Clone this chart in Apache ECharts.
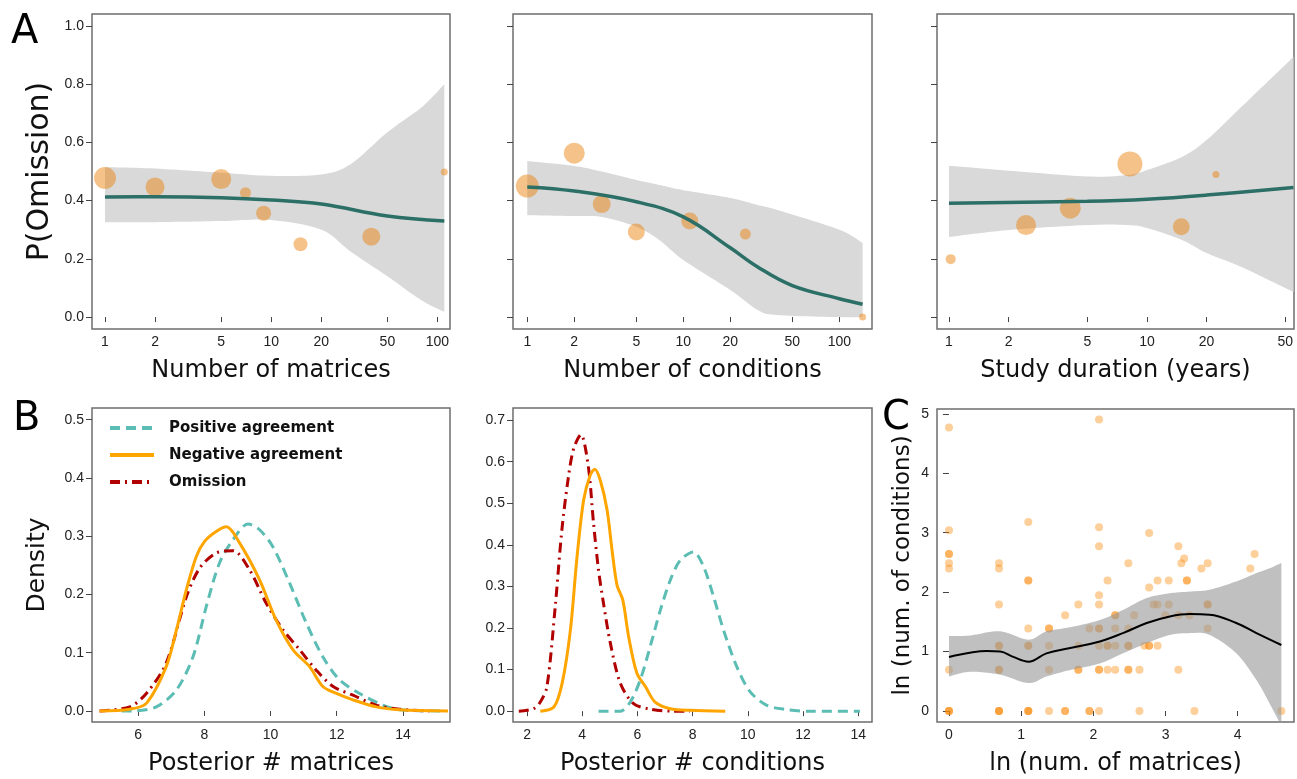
<!DOCTYPE html>
<html><head><meta charset="utf-8">
<script src="https://cdn.jsdelivr.net/npm/echarts@6/dist/echarts.min.js"></script>
<style>html,body{margin:0;padding:0;background:#fff}#c{width:1297px;height:779px}</style>
</head><body><div id="c"></div>
<script>
// ---------- Panel A data ----------
const aYTicks = [0, 0.2, 0.4, 0.6, 0.8, 1.0];
const aXTicks100 = [1, 2, 5, 10, 20, 50, 100];
const aXTicks50 = [1, 2, 5, 10, 20, 50];

const a1PtX = [1, 2, 5, 7, 9, 15, 40, 110];
const a1PtY = [0.478, 0.447, 0.474, 0.427, 0.357, 0.25, 0.276, 0.498];
const a1PtW = [22, 19, 20, 11, 15, 14, 18, 7];
const a1LineX = [1, 2, 5, 10, 20, 50, 110];
const a1LineY = [0.412, 0.413, 0.41, 0.402, 0.388, 0.347, 0.33];
const a1BandX = [1, 2, 5, 10, 20, 30, 50, 80, 110];
const a1BandHi = [0.515, 0.51, 0.496, 0.485, 0.49, 0.525, 0.635, 0.72, 0.80];
const a1BandLo = [0.326, 0.326, 0.33, 0.333, 0.30, 0.225, 0.14, 0.058, 0.018];

const a2PtX = [1, 2, 3, 5, 11, 25, 141];
const a2PtY = [0.45, 0.563, 0.388, 0.292, 0.33, 0.285, 0.0];
const a2PtW = [23, 21, 18, 17, 17, 11, 7];
const a2LineX = [1, 2, 5, 10, 20, 30, 50, 100, 141];
const a2LineY = [0.447, 0.433, 0.396, 0.344, 0.238, 0.172, 0.108, 0.063, 0.044];
const a2BandX = [1, 2, 3, 5, 7, 10, 20, 30, 40, 100, 141];
const a2BandHi = [0.536, 0.519, 0.5, 0.471, 0.454, 0.436, 0.409, 0.385, 0.368, 0.3, 0.254];
const a2BandLo = [0.35, 0.347, 0.344, 0.31, 0.265, 0.196, 0.093, 0.024, 0.007, 0, 0];

const a3PtX = [1.02, 2.45, 4.1, 8.2, 14.9, 22.3];
const a3PtY = [0.199, 0.316, 0.374, 0.526, 0.31, 0.49];
const a3PtW = [10, 20, 21, 25, 17, 7];
const a3LineX = [1, 5, 10, 20, 55];
const a3LineY = [0.391, 0.398, 0.405, 0.419, 0.445];
const a3BandX = [1, 2, 5, 8, 10, 15, 20, 30, 55];
const a3BandHi = [0.52, 0.503, 0.483, 0.488, 0.505, 0.55, 0.608, 0.722, 0.894];
const a3BandLo = [0.275, 0.299, 0.316, 0.316, 0.306, 0.265, 0.22, 0.172, 0.086];

// ---------- Panel B data ----------
const seriesNames = ['Positive agreement', 'Negative agreement', 'Omission'];
const b1YTicks = [0, 0.1, 0.2, 0.3, 0.4, 0.5];
const b1XTicks = [6, 8, 10, 12, 14];
const b1Pos = [[5.5,0],[5.85,0],[6.55,0.007],[7.16,0.036],[7.66,0.093],[8.06,0.179],[8.46,0.254],[8.87,0.294],[9.32,0.321],[9.67,0.311],[10.07,0.282],[10.58,0.219],[11.08,0.151],[11.58,0.093],[12.09,0.053],[12.69,0.030],[13.39,0.010],[13.9,0.002],[15.2,0]];
const b1Neg = [[4.84,0],[5.75,0.003],[6.25,0.013],[6.85,0.076],[7.16,0.139],[7.46,0.208],[7.76,0.265],[8.01,0.291],[8.36,0.308],[8.67,0.316],[9.07,0.288],[9.67,0.225],[10.17,0.156],[10.68,0.105],[11.18,0.076],[11.58,0.042],[11.99,0.030],[12.49,0.019],[13.19,0.007],[13.9,0.002],[15.36,0]];
const b1Om = [[4.84,0],[5.75,0.007],[6.25,0.030],[6.85,0.082],[7.46,0.196],[7.86,0.245],[8.36,0.271],[8.87,0.275],[9.37,0.242],[9.87,0.185],[10.38,0.139],[10.88,0.105],[11.38,0.070],[11.89,0.042],[12.49,0.027],[13.19,0.010],[13.9,0.003],[14.8,0]];

const b2YTicks = [0, 0.1, 0.2, 0.3, 0.4, 0.5, 0.6, 0.7];
const b2XTicks = [2, 4, 6, 8, 10, 12, 14];
const b2Pos = [[4.59,0],[5.38,0],[5.74,0.022],[6.1,0.075],[6.46,0.155],[6.83,0.243],[7.19,0.315],[7.55,0.363],[8.03,0.383],[8.4,0.347],[8.76,0.275],[9.12,0.195],[9.6,0.107],[10.08,0.047],[10.69,0.014],[11.41,0.004],[12.13,0],[14.06,0]];
const b2Neg = [[2.48,0],[2.97,0.010],[3.27,0.067],[3.57,0.195],[3.81,0.371],[4.05,0.508],[4.29,0.568],[4.45,0.582],[4.65,0.556],[4.9,0.484],[5.08,0.387],[5.26,0.303],[5.47,0.267],[5.68,0.179],[5.98,0.091],[6.29,0.059],[6.64,0.022],[7.19,0.006],[7.91,0.002],[9.18,0]];
const b2Om = [[1.7,0],[2.24,0.006],[2.48,0.022],[2.72,0.059],[3.02,0.251],[3.26,0.435],[3.5,0.564],[3.69,0.632],[3.95,0.665],[4.22,0.588],[4.41,0.451],[4.59,0.339],[4.77,0.259],[5.02,0.163],[5.38,0.067],[5.86,0.018],[6.46,0.005],[7.3,0],[7.9,0]];

// ---------- Panel C data ----------
const cXTicks = [0, 1, 2, 3, 4];
const cYTicks = [0, 1, 2, 3, 4, 5];
const cPtX = [0,0,0,0,0,0,0,0,0,0,
  0.693,0.693,0.693,0.693,0.693,0.693,0.693,0.693,0.693,0.693,
  1.099,1.099,1.099,1.099,1.099,1.099,1.099,1.099,1.099,
  1.386,1.386,1.386,1.386,1.386,
  1.609,1.609,1.609,
  1.792,1.792,1.792,1.792,
  1.946,1.946,1.946,
  2.079,2.079,2.079,2.079,2.079,2.079,2.079,2.079,2.079,2.079,2.079,
  2.197,2.197,2.197,2.197,
  2.303,2.303,2.303,2.303,2.303,
  2.485,2.485,2.485,2.485,2.485,2.485,
  2.565,2.639,2.639,2.708,
  2.773,2.773,2.773,2.773,
  2.833,2.890,2.890,2.890,2.996,3.045,3.045,
  3.178,3.178,3.178,3.219,3.258,3.296,3.296,3.332,3.401,3.497,
  3.584,3.584,3.584,3.584,4.174,4.234,4.605];
const cPtY = [4.77,3.04,2.64,2.64,2.485,2.398,0.693,0,0,0,
  2.485,2.398,1.792,1.099,1.099,0.693,0.693,0,0,0,
  3.178,2.197,2.197,1.386,1.099,1.099,0,0,0,
  1.386,1.386,1.099,0.693,0,
  1.609,0,0,
  1.792,1.099,0.693,0.693,
  1.386,0,0,
  4.905,3.091,2.773,1.946,1.792,1.386,1.386,1.099,0.693,0.693,0,
  2.197,1.099,1.099,0.693,
  1.609,1.609,1.386,1.099,0.693,
  2.485,1.386,1.099,1.099,0.693,0.693,
  1.609,0.693,0,1.099,
  2.996,2.079,1.099,1.099,
  1.792,2.197,1.792,1.099,1.609,2.197,1.792,
  2.773,1.609,0.693,2.485,2.565,2.197,2.197,1.609,0,2.398,
  2.485,1.792,1.792,1.386,2.398,2.639,0];
const cLineX = [0, 0.29, 0.52, 0.71, 0.89, 1.10, 1.35, 1.68, 2.09, 2.41, 2.74, 3.06, 3.34, 3.61, 3.98, 4.26, 4.605];
const cLineY = [0.91, 0.98, 1.01, 1.0, 0.91, 0.83, 0.97, 1.06, 1.17, 1.31, 1.48, 1.59, 1.63, 1.62, 1.48, 1.31, 1.11];
const cBandX = [0, 0.29, 0.71, 1.10, 1.35, 1.68, 2.09, 2.41, 2.74, 3.06, 3.34, 3.61, 3.98, 4.26, 4.44, 4.605];
const cBandHi = [1.26, 1.27, 1.34, 1.20, 1.34, 1.41, 1.53, 1.70, 1.90, 1.98, 2.01, 2.04, 2.18, 2.32, 2.40, 2.49];
const cBandLo = [0.58, 0.66, 0.61, 0.47, 0.58, 0.69, 0.80, 0.97, 1.14, 1.28, 1.31, 1.28, 0.97, 0.52, 0.13, -0.25];

// ---------- styles ----------
const TICK_FONT = 'Liberation Sans';
const NAME_FONT = 'DejaVu Sans';
const TEAL_LINE = '#2b6f66';
const BUBBLE = 'rgba(235,130,10,0.6)';
const C_POINT = 'rgba(250,135,5,0.5)';
const POS_C = '#5bbdb3', NEG_C = '#ffa500', OM_C = '#b00000';

const grids = [
  {left: 92, top: 14, width: 358, height: 315},
  {left: 513, top: 14, width: 359, height: 315},
  {left: 937, top: 14, width: 357, height: 315},
  {left: 92, top: 408, width: 358, height: 314},
  {left: 513, top: 408, width: 359, height: 314},
  {left: 937, top: 409, width: 357, height: 313}
].map(g => Object.assign({show: true, borderColor: '#6e6e6e', borderWidth: 1.5, backgroundColor: 'transparent', containLabel: false}, g));

function xAx(gi, type, min, max, ticks, name, fmt) {
  return {
    type: type, logBase: 10, gridIndex: gi, min: min, max: max,
    name: name, nameLocation: 'middle', nameGap: 30,
    nameTextStyle: {fontFamily: NAME_FONT, fontSize: 24, color: '#111'},
    axisLine: {show: false},
    axisTick: {show: true, customValues: ticks, length: 5, lineStyle: {color: '#444', width: 1}},
    axisLabel: {customValues: ticks, margin: 6, fontFamily: TICK_FONT, fontSize: 14, color: '#222', formatter: fmt},
    splitLine: {show: false}
  };
}
function yAx(gi, min, max, ticks, name, showLabels, fmt, nameGap, nameSize) {
  return {
    type: 'value', gridIndex: gi, min: min, max: max,
    name: name, nameLocation: 'middle', nameGap: nameGap || 40, nameRotate: 90,
    nameTextStyle: {fontFamily: NAME_FONT, fontSize: nameSize || 24, color: '#111'},
    axisLine: {show: false},
    axisTick: {show: true, customValues: ticks, length: 6, lineStyle: {color: '#444', width: 1}},
    axisLabel: {show: showLabels, customValues: ticks, margin: 8, fontFamily: TICK_FONT, fontSize: 14, color: '#222', formatter: fmt},
    splitLine: {show: false}
  };
}
const f1 = v => Number(v).toFixed(1);
const f0 = v => String(Math.round(v * 100) / 100);

const xAxes = [
  xAx(0, 'log', 0.835, 119, aXTicks100, 'Number of matrices', f0),
  xAx(1, 'log', 0.81, 162, aXTicks100, 'Number of conditions', f0),
  xAx(2, 'log', 0.87, 55.3, aXTicks50, 'Study duration (years)', f0),
  xAx(3, 'value', 4.61, 15.42, b1XTicks, 'Posterior # matrices', f0),
  xAx(4, 'value', 1.49, 14.5, b2XTicks, 'Posterior # conditions', f0),
  xAx(5, 'value', -0.166, 4.78, cXTicks, 'ln (num. of matrices)', f0)
];
const yAxes = [
  yAx(0, -0.041, 1.041, aYTicks, 'P(Omission)', true, f1, 37, 30),
  yAx(1, -0.041, 1.041, aYTicks, '', false, f1),
  yAx(2, -0.041, 1.041, aYTicks, '', false, f1),
  yAx(3, -0.019, 0.52, b1YTicks, 'Density', true, f1, 42, 25),
  yAx(4, -0.026, 0.729, b2YTicks, '', true, f1),
  yAx(5, -0.185, 5.08, cYTicks, 'ln (num. of conditions)', true, f0, 22, 23)
];

const zip = (xs, ys) => xs.map((x, i) => [x, ys[i]]);

// Catmull-Rom smoothing in pixel space (rendering only)
function spline(p, n) {
  const out = [];
  for (let i = 0; i < p.length - 1; i++) {
    const p0 = p[Math.max(i - 1, 0)], p1 = p[i], p2 = p[i + 1], p3 = p[Math.min(i + 2, p.length - 1)];
    for (let s = 0; s < n; s++) {
      const t = s / n, t2 = t * t, t3 = t2 * t;
      const f = k => 0.5 * ((2 * p1[k]) + (-p0[k] + p2[k]) * t + (2 * p0[k] - 5 * p1[k] + 4 * p2[k] - p3[k]) * t2 + (-p0[k] + 3 * p1[k] - 3 * p2[k] + p3[k]) * t3);
      out.push([f(0), f(1)]);
    }
  }
  out.push(p[p.length - 1]);
  return out;
}

const series = [];
function band(gi, xs, lo, hi, color, z) {
  series.push({type: 'custom', xAxisIndex: gi, yAxisIndex: gi, z: z, silent: true, clip: true,
    data: [[xs[0], hi[0]]],
    renderItem: function (params, api) {
      const up = xs.map((x, i) => api.coord([x, hi[i]]));
      const dn = xs.map((x, i) => api.coord([x, lo[i]]));
      const pts = spline(up, 12).concat(spline(dn, 12).reverse());
      return {type: 'polygon', shape: {points: pts}, style: {fill: color}};
    }});
}
function bubbles(gi, xs, ys, ws) {
  series.push({type: 'scatter', xAxisIndex: gi, yAxisIndex: gi, z: 3, symbol: 'circle',
    data: xs.map((x, i) => [x, ys[i], ws[i]]), symbolSize: d => d[2],
    itemStyle: {color: BUBBLE}});
}
function fitLine(gi, xs, ys, color, w) {
  series.push({type: 'line', xAxisIndex: gi, yAxisIndex: gi, z: 4, smooth: 0.4, symbol: 'none',
    lineStyle: {color: color, width: w}, data: zip(xs, ys)});
}
band(0, a1BandX, a1BandLo, a1BandHi, '#d9d9d9', 1); bubbles(0, a1PtX, a1PtY, a1PtW); fitLine(0, a1LineX, a1LineY, TEAL_LINE, 3.5);
band(1, a2BandX, a2BandLo, a2BandHi, '#d9d9d9', 1); bubbles(1, a2PtX, a2PtY, a2PtW); fitLine(1, a2LineX, a2LineY, TEAL_LINE, 3.5);
band(2, a3BandX, a3BandLo, a3BandHi, '#d9d9d9', 1); bubbles(2, a3PtX, a3PtY, a3PtW); fitLine(2, a3LineX, a3LineY, TEAL_LINE, 3.5);

const styles = [
  {color: POS_C, type: [10, 6]},
  {color: NEG_C, type: 'solid'},
  {color: OM_C, type: [10, 5, 2, 5]}
];
[[b1Pos, b1Neg, b1Om, 3], [b2Pos, b2Neg, b2Om, 4]].forEach(arr => {
  const gi = arr[3];
  [0, 1, 2].forEach(k => {
    series.push({name: seriesNames[k], type: 'line', xAxisIndex: gi, yAxisIndex: gi, smooth: 0.3, symbol: 'none', z: 3 + (k === 1 ? 1 : 0),
      lineStyle: {color: styles[k].color, width: 3, type: styles[k].type, cap: 'butt'},
      itemStyle: {color: styles[k].color}, data: arr[k]});
  });
});

series.push({type: 'scatter', xAxisIndex: 5, yAxisIndex: 5, z: 2, symbolSize: 8,
  itemStyle: {color: C_POINT}, data: zip(cPtX, cPtY)});
band(5, cBandX, cBandLo, cBandHi, 'rgba(150,150,150,0.6)', 3);
fitLine(5, cLineX, cLineY, '#000', 2);

const option = {
  animation: false,
  backgroundColor: '#fff',
  title: [
    {text: 'A', left: 6, top: 8, textStyle: {fontFamily: NAME_FONT, fontSize: 40, fontWeight: 'normal', color: '#000'}},
    {text: 'B', left: 8, top: 395, textStyle: {fontFamily: NAME_FONT, fontSize: 40, fontWeight: 'normal', color: '#000'}},
    {text: 'C', left: 877, top: 394, textStyle: {fontFamily: NAME_FONT, fontSize: 40, fontWeight: 'normal', color: '#000'}}
  ],
  legend: {
    data: seriesNames, orient: 'vertical', left: 103, top: 414, itemWidth: 44, itemHeight: 14, itemGap: 9,
    itemStyle: {opacity: 0},
    lineStyle: {width: 4},
    textStyle: {fontFamily: NAME_FONT, fontWeight: 'bold', fontSize: 15, color: '#111', lineHeight: 18, padding: [0, 0, 0, 10]}
  },
  grid: grids,
  xAxis: xAxes,
  yAxis: yAxes,
  series: series
};
const chart = echarts.init(document.getElementById('c'), null, {renderer: 'canvas'});
chart.setOption(option);
</script>
</body></html>
